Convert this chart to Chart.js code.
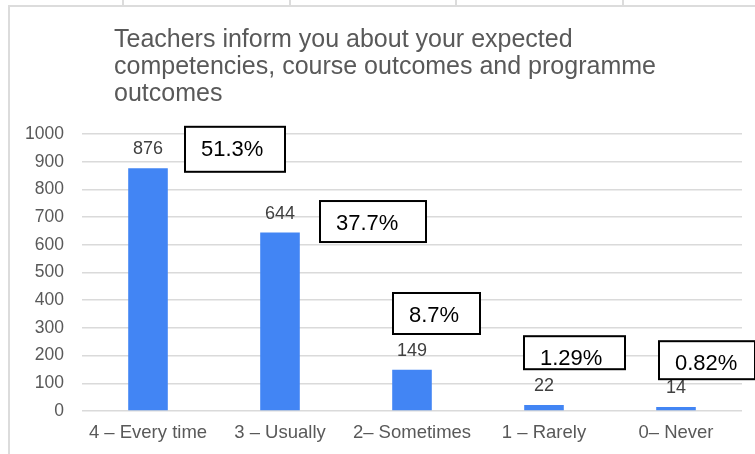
<!DOCTYPE html>
<html>
<head>
<meta charset="utf-8">
<script src="https://cdn.jsdelivr.net/npm/chart.js@4.4.1/dist/chart.umd.min.js"></script>
<style>
  html, body { margin: 0; padding: 0; background: #fff; }
  #wrap { position: relative; width: 755px; height: 454px; }
</style>
</head>
<body>
<div id="wrap"><canvas id="surveyChart" width="755" height="454"></canvas></div>
<script>
// --- Data ---
const titleLines = [
    'Teachers inform you about your expected',
    'competencies, course outcomes and programme',
    'outcomes'
];
const categories = ['4 \u2013 Every time', '3 \u2013 Usually', '2\u2013 Sometimes', '1 \u2013 Rarely', '0\u2013 Never'];
const responses = [876, 644, 149, 22, 14];
const percentLabels = ['51.3%', '37.7%', '8.7%', '1.29%', '0.82%'];
const yTicks = [0, 100, 200, 300, 400, 500, 600, 700, 800, 900, 1000];

const FONT = 'Arial, "Liberation Sans", sans-serif';

// callout boxes: offset from bar centre (px), top in value units, box size
const calloutLayout = [
    { dx: 37, top: 1026, w: 100, h: 45 },
    { dx: 40, top: 758, w: 106, h: 41 },
    { dx: -19, top: 426, w: 87, h: 41 },
    { dx: -20, top: 270, w: 101, h: 33 },
    { dx: -17, top: 252, w: 96, h: 38 }
];

// --- Page frame + title ---
const framePlugin = {
    id: 'frame',
    beforeDraw(chart) {
        const ctx = chart.ctx;
        ctx.save();
        ctx.fillStyle = '#ffffff';
        ctx.fillRect(0, 0, chart.width, chart.height);
        ctx.strokeStyle = '#dcdcdc';
        ctx.lineWidth = 2;
        ctx.beginPath();
        ctx.moveTo(8, 6); ctx.lineTo(chart.width, 6);
        ctx.moveTo(9, 6); ctx.lineTo(9, chart.height);
        [123, 290, 456, 623].forEach(x => {
            ctx.moveTo(x, 0); ctx.lineTo(x, 5);
        });
        ctx.stroke();

        ctx.fillStyle = '#595959';
        ctx.font = '25px ' + FONT;
        ctx.textAlign = 'left';
        ctx.textBaseline = 'alphabetic';
        titleLines.forEach((line, i) => ctx.fillText(line, 114, 47 + i * 27));
        ctx.restore();
    }
};

// --- Value labels above bars + percentage callouts ---
const labelPlugin = {
    id: 'barLabels',
    afterDatasetsDraw(chart) {
        const ctx = chart.ctx;
        const meta = chart.getDatasetMeta(0);
        const yScale = chart.scales.y;
        ctx.save();
        ctx.font = '18px ' + FONT;
        ctx.fillStyle = '#404040';
        ctx.textAlign = 'center';
        ctx.textBaseline = 'middle';
        meta.data.forEach((bar, i) => {
            ctx.fillText(String(responses[i]), bar.x, bar.y - 19);
        });

        ctx.font = '22px ' + FONT;
        ctx.textAlign = 'left';
        meta.data.forEach((bar, i) => {
            const c = calloutLayout[i];
            const left = bar.x + c.dx;
            const top = yScale.getPixelForValue(c.top);
            ctx.fillStyle = '#ffffff';
            ctx.fillRect(left, top, c.w, c.h);
            ctx.strokeStyle = '#000000';
            ctx.lineWidth = 2;
            ctx.strokeRect(left, top, c.w, c.h);
            ctx.fillStyle = '#000000';
            ctx.fillText(percentLabels[i], left + 16, top + 23);
        });
        ctx.restore();
    }
};

const ctx = document.getElementById('surveyChart').getContext('2d');
new Chart(ctx, {
    type: 'bar',
    data: {
        labels: categories,
        datasets: [{
            data: responses,
            backgroundColor: '#4285f4',
            borderWidth: 0,
            categoryPercentage: 1,
            barPercentage: 0.3
        }]
    },
    options: {
        responsive: false,
        animation: false,
        devicePixelRatio: 1,
        layout: { padding: { top: 134, left: 9, right: 13, bottom: 0 } },
        plugins: {
            legend: { display: false },
            title: { display: false },
            tooltip: { enabled: false }
        },
        scales: {
            x: {
                grid: { display: false, drawTicks: false },
                border: { display: false },
                ticks: {
                    color: '#595959',
                    font: { family: FONT, size: 18.5 },
                    padding: 11,
                    maxRotation: 0,
                    autoSkip: false
                },
                afterFit(scale) { scale.height = 43; }
            },
            y: {
                min: 0,
                max: 1000,
                afterBuildTicks(scale) {
                    scale.ticks = yTicks.map(v => ({ value: v }));
                },
                grid: { color: '#dadada', lineWidth: 1.5, drawTicks: false },
                border: { display: false },
                ticks: {
                    color: '#595959',
                    font: { family: FONT, size: 17.5 },
                    padding: 18,
                    callback: v => String(v)
                },
                afterFit(scale) { scale.width = 73; }
            }
        }
    },
    plugins: [framePlugin, labelPlugin]
});
</script>
</body>
</html>
